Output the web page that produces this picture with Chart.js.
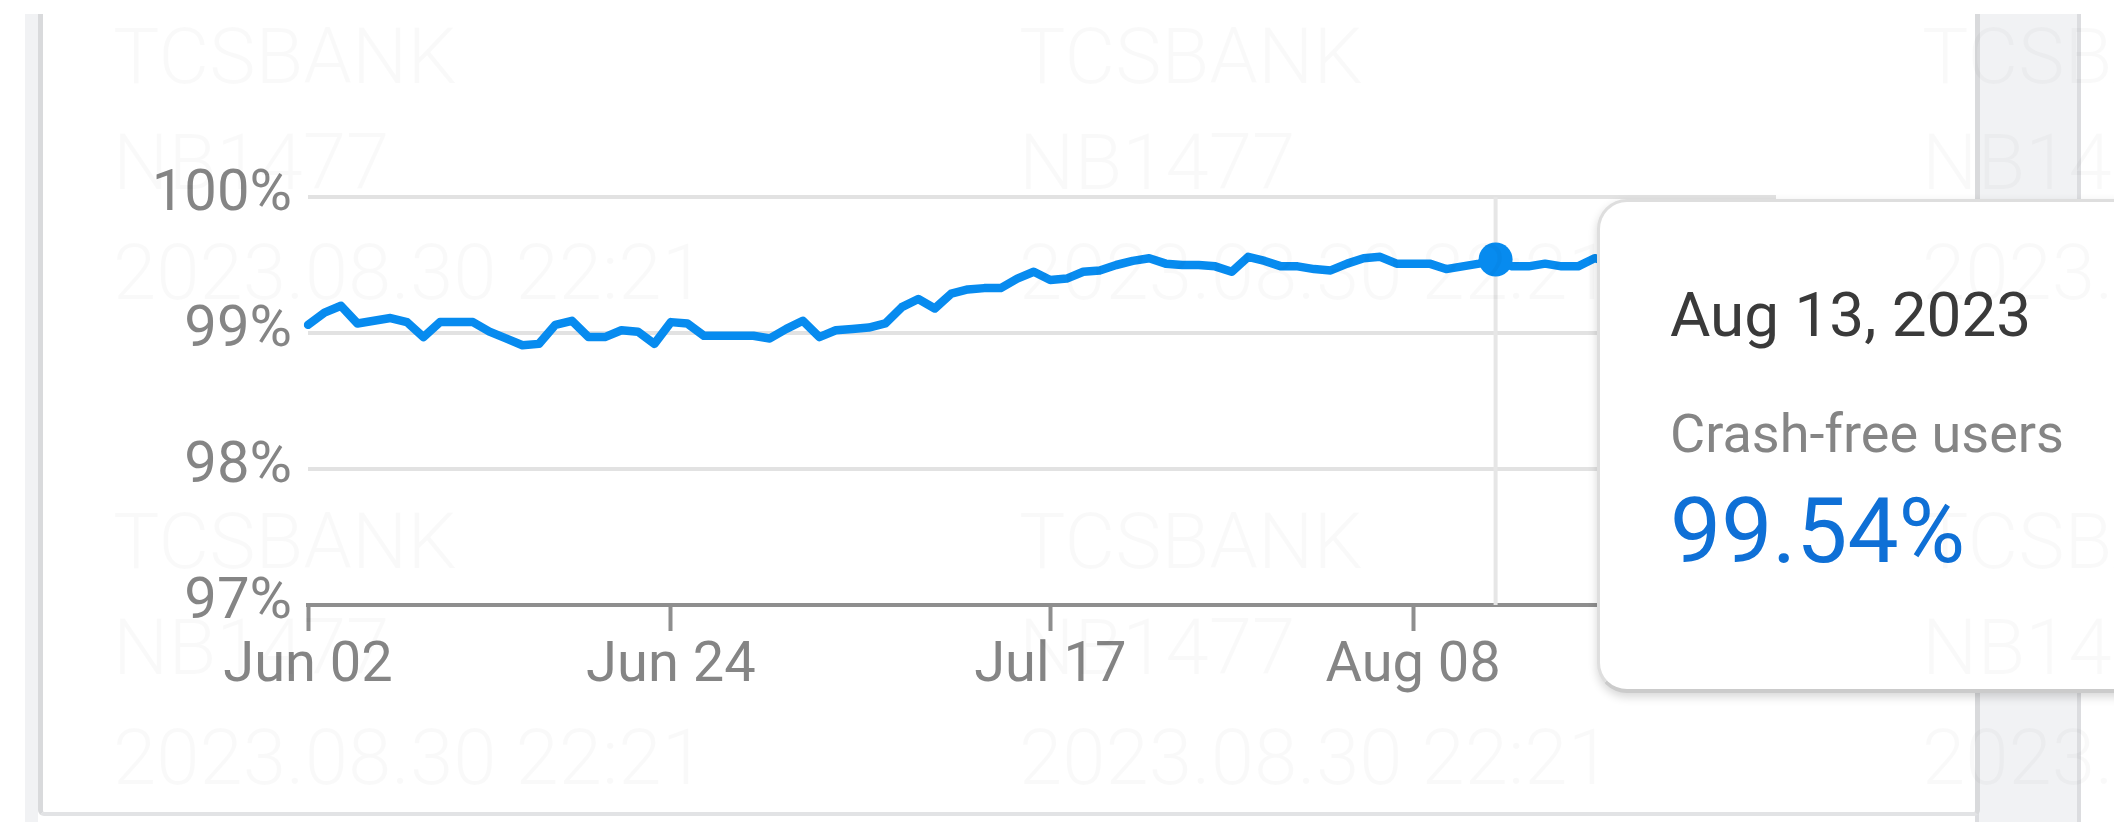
<!DOCTYPE html>
<html>
<head>
<meta charset="utf-8">
<script src="https://cdn.jsdelivr.net/npm/chart.js@4.4.0/dist/chart.umd.min.js"></script>
<style>
  body { margin: 0; width: 2114px; height: 822px; position: relative; overflow: hidden; background: #fff; font-family: Roboto, sans-serif; }
  .gutter { position: absolute; background: #f1f2f4; }
  #card { position: absolute; left: 38px; top: 14px; width: 1932px; height: 798px; border-left: 5px solid #d9dadc; border-right: 5px solid #d9dadc; border-bottom: 4px solid #e2e3e5; border-radius: 0 0 6px 6px; }
  #chartBox { position: absolute; left: 0; top: 0; width: 2114px; height: 822px; }
  #tip { position: absolute; left: 1597px; top: 199px; width: 620px; height: 487px; background: #fff; border: 3px solid #dedede; border-bottom: 4px solid #cbcbcb; border-radius: 30px; box-shadow: 0 4px 10px rgba(0,0,0,0.16); display: none; }
  #tip div { position: absolute; left: 70px; line-height: 1; white-space: nowrap; }
  #tipTitle { top: 82px; font-size: 62px; color: #3a3a3a; }
  #tipLabel { top: 205px; font-size: 54px; color: #858585; }
  #tipValue { top: 284px; font-size: 91px; color: #0f70d6; }
  .wm { position: absolute; font-size: 78px; font-weight: 300; line-height: 1; color: rgba(0,0,0,0.022); white-space: nowrap; pointer-events: none; }
</style>
</head>
<body>
<div class="gutter" style="left:25px;top:14px;width:13px;height:808px"></div>
<div class="gutter" style="left:1975px;top:14px;width:106px;height:808px;border-left:4px solid #dcdde0;border-right:4px solid #dcdde0;box-sizing:border-box"></div>
<div id="card"></div>
<div id="chartBox"><canvas id="crashChart"></canvas></div>
<div id="tip"><div id="tipTitle"></div><div id="tipLabel"></div><div id="tipValue"></div></div>
<div id="wmLayer"></div>
<script>
// daily crash-free users (%), Jun 02 .. Aug 30 2023
const crashFree = [
  99.06, 99.15, 99.20, 99.07, 99.09, 99.11, 99.08, 98.97, 99.08, 99.08,
  99.08, 99.01, 98.96, 98.91, 98.92, 99.06, 99.09, 98.97, 98.97, 99.02,
  99.01, 98.92, 99.08, 99.07, 98.98, 98.98, 98.98, 98.98, 98.96, 99.03,
  99.09, 98.97, 99.02, 99.03, 99.04, 99.07, 99.19, 99.25, 99.18, 99.29,
  99.32, 99.33, 99.33, 99.40, 99.45, 99.39, 99.40, 99.45, 99.46, 99.50,
  99.53, 99.55, 99.51, 99.50, 99.50, 99.49, 99.45, 99.56, 99.53, 99.49,
  99.49, 99.47, 99.46, 99.51, 99.55, 99.56, 99.51, 99.51, 99.51, 99.47,
  99.49, 99.51, 99.54, 99.49, 99.49, 99.51, 99.49, 99.49, 99.55, 99.52,
  99.50, 99.53, 99.55, 99.51, 99.49, 99.52, 99.54, 99.50, 99.53, 99.52
];
const dates = crashFree.map((_, i) => new Date(2023, 5, 2 + i));
const tickLabels = ['Jun 02', 'Jun 24', 'Jul 17', 'Aug 08', 'Aug 30'];
const yTicks = [97, 98, 99, 100];
const hoverIndex = 72; // Aug 13
const seriesName = 'Crash-free users';
const watermarkLines = ['TCSBANK', 'NB1477', '2023.08.30 22:21'];

const MONTHS = ['Jan','Feb','Mar','Apr','May','Jun','Jul','Aug','Sep','Oct','Nov','Dec'];
function shortDate(d) { return MONTHS[d.getMonth()] + ' ' + String(d.getDate()).padStart(2, '0'); }
function longDate(d) { return MONTHS[d.getMonth()] + ' ' + d.getDate() + ', ' + d.getFullYear(); }

function externalTip(context) {
  const tip = context.tooltip;
  const el = document.getElementById('tip');
  if (!tip.dataPoints || !tip.dataPoints.length) { el.style.display = 'none'; return; }
  const dp = tip.dataPoints[0];
  document.getElementById('tipTitle').textContent = longDate(dates[dp.dataIndex]);
  document.getElementById('tipLabel').textContent = dp.dataset.label;
  document.getElementById('tipValue').textContent = dp.raw.toFixed(2) + '%';
  el.style.display = 'block';
}

// vertical hover line under the series
const hoverLine = {
  id: 'hoverLine',
  beforeDatasetsDraw(chart) {
    const act = chart.getActiveElements();
    if (!act.length) return;
    const x = act[0].element.x;
    const { top, bottom } = chart.chartArea;
    const ctx = chart.ctx;
    ctx.save();
    ctx.strokeStyle = '#e6e6e6';
    ctx.lineWidth = 4;
    ctx.beginPath();
    ctx.moveTo(x, top);
    ctx.lineTo(x, bottom);
    ctx.stroke();
    ctx.restore();
  }
};

const chart = new Chart(document.getElementById('crashChart'), {
  type: 'line',
  data: {
    labels: dates.map(shortDate),
    datasets: [{
      label: seriesName,
      data: crashFree,
      borderColor: '#078bef',
      borderWidth: 8.5,
      borderJoinStyle: 'round',
      borderCapStyle: 'round',
      tension: 0,
      pointRadius: 0,
      pointHoverRadius: 17,
      pointHoverBorderWidth: 0,
      pointBackgroundColor: '#078bef',
      pointHoverBackgroundColor: '#078bef',
      fill: false
    }]
  },
  options: {
    responsive: true,
    maintainAspectRatio: false,
    animation: false,
    events: [],
    interaction: { mode: 'index', intersect: false },
    layout: { padding: { left: 108, right: 338, top: 197, bottom: 117 } },
    plugins: {
      legend: { display: false },
      tooltip: { enabled: false, external: externalTip }
    },
    scales: {
      x: {
        grid: { drawOnChartArea: false, drawTicks: true, tickLength: 26, tickWidth: 4, tickColor: '#8e8e8e' },
        border: { display: true, color: '#8e8e8e', width: 4 },
        ticks: {
          autoSkip: false, maxRotation: 0, padding: 2,
          color: '#858585', font: { family: 'Roboto', size: 56 },
          callback: function (v) {
            const s = this.getLabelForValue(v);
            return tickLabels.includes(s) ? s : null;
          }
        },
        afterFit: (s) => { s.height = 100; }
      },
      y: {
        min: 97, max: 100,
        grid: {
          drawTicks: false, lineWidth: 4,
          color: (c) => (c.tick && c.tick.value === yTicks[0]) ? '#8e8e8e' : '#e2e2e2'
        },
        border: { display: false },
        ticks: {
          stepSize: 1, padding: 16, labelOffset: -2,
          color: '#858585', font: { family: 'Roboto', size: 58 },
          callback: (v) => yTicks.includes(v) ? v + '%' : null
        },
        afterFit: (s) => { s.width = 200; }
      }
    }
  },
  plugins: [hoverLine]
});

const active = [{ datasetIndex: 0, index: hoverIndex }];
chart.setActiveElements(active);
chart.tooltip.setActiveElements(active, { x: 0, y: 0 });
chart.update('none');

// faint watermark grid over the page
const wmLayer = document.getElementById('wmLayer');
const wmCols = [113, 1019, 1922];
const wmRows = [18, 503];
const wmLineOffsets = [0, 106, 216];
wmRows.forEach(top => wmCols.forEach(left => {
  watermarkLines.forEach((txt, k) => {
    const d = document.createElement('div');
    d.className = 'wm';
    d.style.left = left + 'px';
    d.style.top = (top + wmLineOffsets[k]) + 'px';
    d.textContent = txt;
    wmLayer.appendChild(d);
  });
}));
</script>
</body>
</html>
